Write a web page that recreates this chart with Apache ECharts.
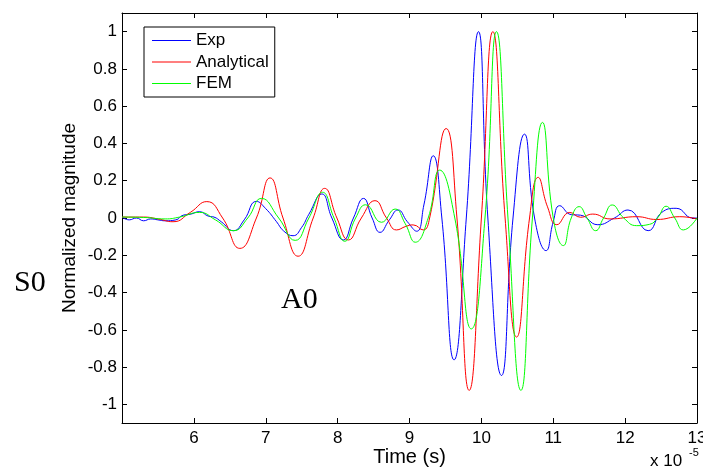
<!DOCTYPE html>
<html>
<head>
<meta charset="utf-8">
<script src="https://cdn.jsdelivr.net/npm/echarts@6/dist/echarts.min.js"></script>
<style>
  html, body { margin: 0; padding: 0; background: #fff; }
  #main { width: 703px; height: 470px; }
</style>
</head>
<body>
<div id="main"></div>
<script>
// time axis values are in units of 1e-5 s
const expT = [5.0, 5.1, 5.2, 5.3, 5.4, 5.5, 5.6, 5.75, 5.85, 5.95, 6.08, 6.2, 6.28, 6.38, 6.55, 6.7, 6.87, 7.0, 7.15, 7.25,
  7.38, 7.5, 7.6, 7.78, 7.92, 8.08, 8.22, 8.36, 8.48, 8.59, 8.72, 8.84, 8.97, 9.1, 9.2, 9.33, 9.45, 9.62, 9.79, 9.96,
  10.09, 10.28, 10.44, 10.6, 10.74, 10.9, 11.0, 11.09, 11.25, 11.38, 11.62, 11.85, 12.04, 12.32, 12.51, 12.71, 12.94, 13.0];
const expV = [0.005, -0.01, 0.0, -0.015, -0.005, -0.01, -0.015, -0.01, 0.015, 0.02, 0.034, 0.01, 0.005, -0.02, -0.068, -0.01, 0.089, 0.05, -0.02, -0.07,
  -0.095, -0.05, 0.02, 0.129, 0.0, -0.118, 0.0, 0.105, 0.0, -0.077, -0.01, 0.043, -0.02, -0.071, 0.07, 0.334, 0.0, -0.761, 0.0, 1.0,
  0.0, -0.845, 0.0, 0.45, 0.0, -0.175, -0.02, 0.066, 0.018, 0.015, -0.036, 0.0, 0.043, -0.068, 0.03, 0.052, 0.0, 0.0];

const anaT = [5.0, 5.3, 5.5, 5.71, 5.95, 6.18, 6.4, 6.64, 6.87, 7.06, 7.24, 7.45, 7.66, 7.82, 7.99, 8.15, 8.33, 8.52, 8.68, 8.82,
  8.95, 9.05, 9.19, 9.28, 9.51, 9.66, 9.83, 10.0, 10.16, 10.33, 10.49, 10.67, 10.79, 10.92, 11.05, 11.23, 11.38, 11.55, 11.79, 12.16,
  12.44, 12.76, 13.0];
const anaV = [0.005, 0.005, -0.005, -0.02, 0.03, 0.088, 0.0, -0.163, 0.0, 0.215, 0.0, -0.205, 0.0, 0.159, 0.0, -0.118, 0.0, 0.093, 0.0, -0.064,
  -0.045, -0.037, -0.064, 0.0, 0.48, 0.0, -0.925, 0.0, 1.0, 0.0, -0.639, 0.0, 0.218, 0.06, -0.036, 0.03, 0.004, 0.021, -0.005, 0.007,
  -0.008, 0.007, -0.005];

const femT = [5.0, 5.3, 5.6, 5.8, 6.08, 6.3, 6.55, 6.75, 6.94, 7.18, 7.41, 7.6, 7.79, 7.95, 8.1, 8.25, 8.39, 8.61, 8.8, 8.94,
  9.08, 9.26, 9.42, 9.63, 9.86, 10.05, 10.21, 10.37, 10.55, 10.71, 10.85, 11.0, 11.14, 11.25, 11.36, 11.47, 11.59, 11.7, 11.82, 11.98,
  12.16, 12.34, 12.45, 12.57, 12.69, 12.81, 13.0];
const femV = [0.005, 0.003, -0.005, 0.005, 0.03, -0.01, -0.068, 0.0, 0.105, 0.0, -0.12, 0.0, 0.138, 0.0, -0.125, 0.0, 0.071, -0.023, 0.048, -0.03,
  -0.13, 0.0, 0.257, 0.0, -0.595, 0.0, 1.0, 0.0, -0.925, 0.0, 0.513, 0.0, -0.148, 0.0, 0.061, 0.0, -0.068, 0.0, 0.07, 0.0,
  -0.041, -0.034, 0.0, 0.063, 0.0, -0.064, 0.0];

const seriesNames = ['Exp', 'Analytical', 'FEM'];
const yTicks = [-1, -0.8, -0.6, -0.4, -0.2, 0, 0.2, 0.4, 0.6, 0.8, 1];

const font = "'Liberation Sans', Arial, sans-serif";

function pairs(t, v) {
  return t.map((x, i) => [x, v[i]]);
}

function lineSeries(name, t, v, color) {
  return {
    name: name,
    type: 'line',
    data: pairs(t, v),
    symbol: 'none',
    smooth: 0.5,
    color: color,
    lineStyle: { width: 1, color: color }
  };
}

let myChart = echarts.init(document.getElementById('main'));
let tickStyle = { inside: true, length: 5, lineStyle: { color: '#000', width: 1 } };
let lineAxis = { onZero: false, lineStyle: { color: '#000', width: 1 } };

let option = {
  animation: false,
  backgroundColor: '#fff',
  grid: { left: 122, right: 6, top: 13, bottom: 47, outerBoundsMode: 'none', containLabel: false },
  legend: {
    orient: 'vertical',
    left: 144,
    top: 27,
    icon: 'rect',
    itemWidth: 39,
    itemHeight: 1,
    itemGap: 4.5,
    padding: [5, 6, 5, 8],
    borderColor: '#000',
    borderWidth: 1,
    backgroundColor: '#fff',
    textStyle: { fontSize: 17, fontFamily: font, color: '#000' },
    data: seriesNames
  },
  xAxis: [
    {
      type: 'value', position: 'bottom', min: 5, max: 13, interval: 1,
      axisLine: lineAxis, axisTick: tickStyle, splitLine: { show: false },
      axisLabel: {
        color: '#000', fontSize: 17, fontFamily: font, margin: 7,
        formatter: v => (v === 5 ? '' : String(v))
      },
      name: 'Time (s)', nameLocation: 'middle', nameGap: 24, nameMoveOverlap: false,
      nameTextStyle: { color: '#000', fontSize: 20, fontFamily: font }
    },
    {
      type: 'value', position: 'top', min: 5, max: 13, interval: 1,
      axisLine: lineAxis, axisTick: tickStyle, splitLine: { show: false },
      axisLabel: { show: false }
    }
  ],
  yAxis: [
    {
      type: 'value', position: 'left', min: -1.1, max: 1.1,
      axisLine: lineAxis,
      axisTick: Object.assign({ customValues: yTicks }, tickStyle),
      splitLine: { show: false },
      axisLabel: {
        customValues: yTicks, color: '#000', fontSize: 17, fontFamily: font, margin: 5,
        formatter: v => String(Math.round(v * 10) / 10)
      },
      name: 'Normalized magnitude', nameLocation: 'middle', nameGap: 43, nameMoveOverlap: false,
      nameTextStyle: { color: '#000', fontSize: 19, fontFamily: font }
    },
    {
      type: 'value', position: 'right', min: -1.1, max: 1.1,
      axisLine: lineAxis,
      axisTick: Object.assign({ customValues: yTicks }, tickStyle),
      splitLine: { show: false },
      axisLabel: { show: false }
    }
  ],
  graphic: [
    { type: 'text', left: 14, top: 268, style: { text: 'S0', font: "30px 'Liberation Serif', 'Times New Roman', serif", fill: '#000' } },
    { type: 'text', left: 281, top: 285, style: { text: 'A0', font: "30px 'Liberation Serif', 'Times New Roman', serif", fill: '#000' } },
    { type: 'text', left: 650, top: 453, style: { text: 'x 10', font: "17px 'Liberation Sans', Arial, sans-serif", fill: '#000' } },
    { type: 'text', left: 689, top: 447, style: { text: '-5', font: "11px 'Liberation Sans', Arial, sans-serif", fill: '#000' } }
  ],
  series: [
    lineSeries(seriesNames[0], expT, expV, '#0000ff'),
    lineSeries(seriesNames[1], anaT, anaV, '#ff0000'),
    lineSeries(seriesNames[2], femT, femV, '#00ff00')
  ]
};

myChart.setOption(option);
</script>
</body>
</html>
